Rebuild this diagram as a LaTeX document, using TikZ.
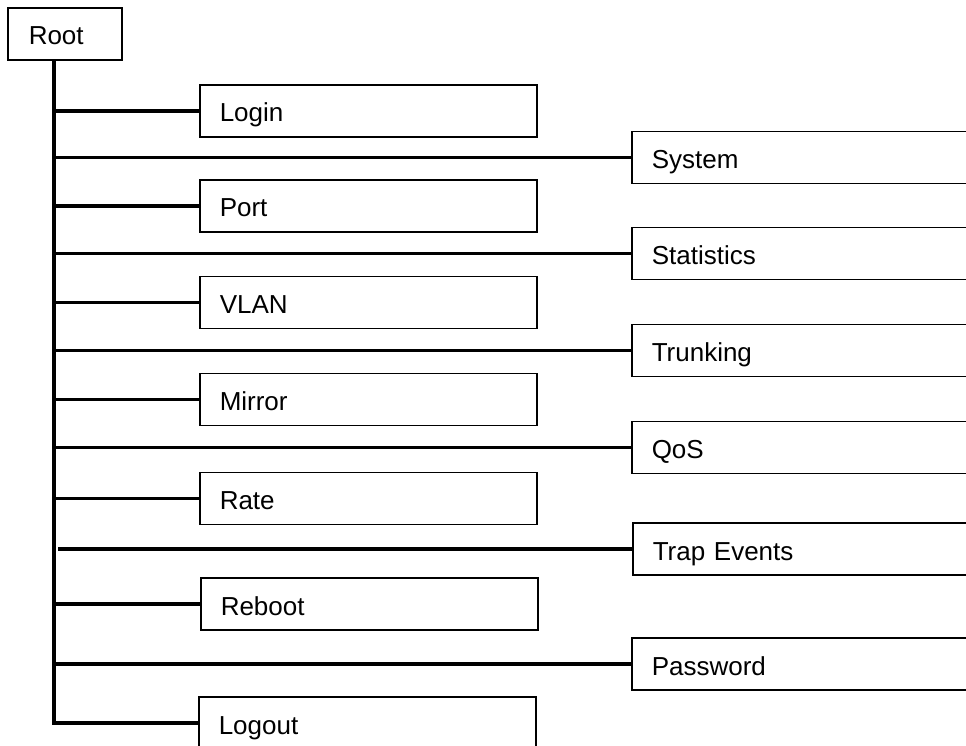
\documentclass[tikz,border=0pt]{standalone}
\usepackage{fontspec}
\setmainfont{Liberation Sans}
\begin{document}
\begin{tikzpicture}[x=1pt,y=-1pt,
  box/.style={draw, line width=1.5pt, anchor=west, minimum height=52pt,
    inner xsep=20pt, text width=#1, align=left, text height=22pt, text depth=0pt,
    font=\fontsize{26}{30}\selectfont},
  leftbox/.style={box=297pt},
  rightbox/.style={box=305pt},
  link/.style={line width=3.4pt}]
\clip (0,0) rectangle (966,746);
% root
\node[box=72pt, inner xsep=21pt] (root) at (7,34) {Root};
% left column
\node[leftbox] (login)  at (199,111)   {Login};
\node[leftbox] (port)   at (199,206)   {Port};
\node[leftbox] (vlan)   at (199,302.5) {VLAN};
\node[leftbox] (mirror) at (199,399.5) {Mirror};
\node[leftbox] (rate)   at (199,498.5) {Rate};
\node[leftbox] (reboot) at (200,604)   {Reboot};
\node[leftbox] (logout) at (198,723)   {Logout};
% right column
\node[rightbox] (system)   at (631,157.5) {System};
\node[rightbox] (stats)    at (631,253.5) {Statistics};
\node[rightbox] (trunking) at (631,350.5) {Trunking};
\node[rightbox] (qos)      at (631,447.5) {QoS};
\node[rightbox] (trap)     at (632,549)   {Trap Events};
\node[rightbox] (password) at (631,664)   {Password};
% trunk
\coordinate (tx) at (54,60);
\draw[link] (root.south -| tx) |- (logout.west);
\foreach \n in {login,system,port,stats,vlan,trunking,mirror,qos,rate,reboot,password}
  \draw[link] (\n.west -| tx) -- (\n.west);
\draw[link] ([xshift=4pt]trap.west -| tx) -- (trap.west);
\end{tikzpicture}
\end{document}
